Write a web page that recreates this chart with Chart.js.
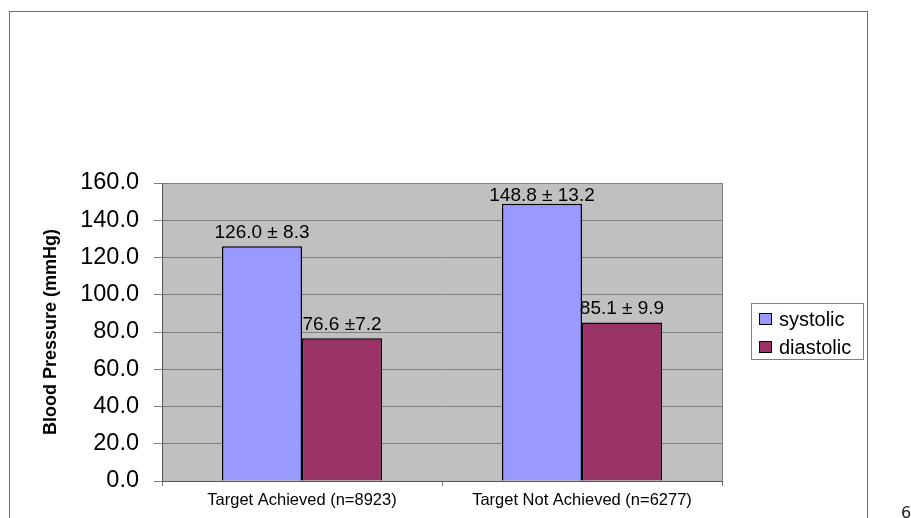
<!DOCTYPE html>
<html>
<head>
<meta charset="utf-8">
<script src="https://cdn.jsdelivr.net/npm/chart.js@4/dist/chart.umd.min.js"></script>
<style>
  html, body { margin: 0; padding: 0; background: #fff; }
  #wrap { position: relative; width: 911px; height: 518px; overflow: hidden; }
  #frame { position: absolute; left: 9px; top: 11px; width: 857px; height: 520px;
           border: 1.5px solid #6b6b6b; border-bottom: none; }
  #page { position: absolute; left: 901px; top: 503px; font: 16px "DejaVu Sans", sans-serif; color: #222; }
  canvas { position: absolute; left: 0; top: 0; }
</style>
</head>
<body>
<div id="wrap">
  <div id="frame"></div>
  <canvas id="c" width="911" height="518"></canvas>
  <div id="page">6</div>
</div>
<script>
// Mean blood pressure by target status
const categories = ['Target Achieved (n=8923)', 'Target Not Achieved (n=6277)'];
const seriesNames = ['systolic', 'diastolic'];
const systolic = [126.0, 148.8];
const diastolic = [76.6, 85.1];
const systolicText = ['126.0 \u00b1 8.3', '148.8 \u00b1 13.2'];
const diastolicText = ['76.6 \u00b17.2', '85.1 \u00b1 9.9'];
const yTicks = [0, 20, 40, 60, 80, 100, 120, 140, 160];

const FONT = '"Liberation Sans", Arial, sans-serif';

// grey plot background and right edge of the plot frame
const plotBg = {
  id: 'plotBg',
  beforeDraw(chart) {
    const {ctx, chartArea: a} = chart;
    ctx.save();
    ctx.fillStyle = '#C0C0C0';
    ctx.fillRect(a.left, a.top, a.right - a.left, a.bottom - a.top);
    ctx.restore();
  },
  afterDraw(chart) {
    const {ctx, chartArea: a} = chart;
    ctx.save();
    ctx.strokeStyle = '#808080';
    ctx.lineWidth = 1;
    ctx.beginPath();
    ctx.moveTo(a.right + 0.5, a.top);
    ctx.lineTo(a.right + 0.5, a.bottom);
    ctx.stroke();
    ctx.restore();
  }
};

// value ± SD text above each bar
const barText = {
  id: 'barText',
  afterDatasetsDraw(chart) {
    const {ctx, chartArea: a} = chart;
    const texts = [systolicText, diastolicText];
    ctx.save();
    ctx.font = '19px ' + FONT;
    ctx.fillStyle = '#000';
    ctx.textAlign = 'center';
    ctx.textBaseline = 'middle';
    chart.data.datasets.forEach((ds, di) => {
      chart.getDatasetMeta(di).data.forEach((bar, i) => {
        const y = Math.max(bar.y - 14, a.top + 13);
        ctx.fillText(texts[di][i], bar.x, y);
      });
    });
    ctx.restore();
  }
};

// boxed legend at the right of the plot
const boxLegend = {
  id: 'boxLegend',
  afterDraw(chart) {
    const {ctx} = chart;
    const x0 = 751, y0 = 303, w = 112, h = 56;
    ctx.save();
    ctx.strokeStyle = '#808080';
    ctx.lineWidth = 1;
    ctx.strokeRect(x0 + 0.5, y0 + 0.5, w, h);
    ctx.font = '20px ' + FONT;
    ctx.textBaseline = 'middle';
    ctx.textAlign = 'left';
    chart.data.datasets.forEach((ds, i) => {
      const cy = 319 + i * 28;
      ctx.fillStyle = ds.backgroundColor;
      ctx.fillRect(759, cy - 6, 13, 12);
      ctx.strokeStyle = '#000';
      ctx.strokeRect(759.5, cy - 5.5, 12, 11);
      ctx.fillStyle = '#000';
      ctx.fillText(ds.label, 779, cy + 1);
    });
    ctx.restore();
  }
};

new Chart(document.getElementById('c'), {
  type: 'bar',
  data: {
    labels: categories,
    datasets: [
      { label: seriesNames[0], data: systolic, backgroundColor: '#9999FF',
        borderColor: '#000', borderWidth: 1.5, barPercentage: 1, categoryPercentage: 0.5714 },
      { label: seriesNames[1], data: diastolic, backgroundColor: '#993366',
        borderColor: '#000', borderWidth: 1.5, barPercentage: 1, categoryPercentage: 0.5714 }
    ]
  },
  options: {
    responsive: false,
    animation: false,
    devicePixelRatio: 1,
    layout: { padding: { top: 183, right: 189, bottom: 0, left: 0 } },
    plugins: { legend: { display: false }, tooltip: { enabled: false } },
    scales: {
      x: {
        afterFit(s) { s.height = 37; },
        grid: { offset: true, drawOnChartArea: false, drawTicks: true, tickLength: 5, color: '#808080' },
        border: { display: true, color: '#555' },
        ticks: { color: '#000', font: { family: FONT, size: 16.5 }, padding: 5,
                 maxRotation: 0, autoSkip: false }
      },
      y: {
        min: 0, max: 160,
        afterFit(s) { s.width = 162; },
        afterBuildTicks(s) { s.ticks = yTicks.map(v => ({ value: v })); },
        grid: { color: '#808080', lineWidth: 1, tickLength: 8 },
        border: { display: true, color: '#555' },
        ticks: { color: '#000', font: { family: FONT, size: 23.5 }, padding: 15,
                 callback: v => Number(v).toFixed(1) },
        title: { display: true, text: 'Blood Pressure (mmHg)', color: '#000',
                 font: { family: FONT, size: 18, weight: 'bold' }, padding: { top: 40, bottom: 0 } }
      }
    }
  },
  plugins: [plotBg, barText, boxLegend]
});
</script>
</body>
</html>
